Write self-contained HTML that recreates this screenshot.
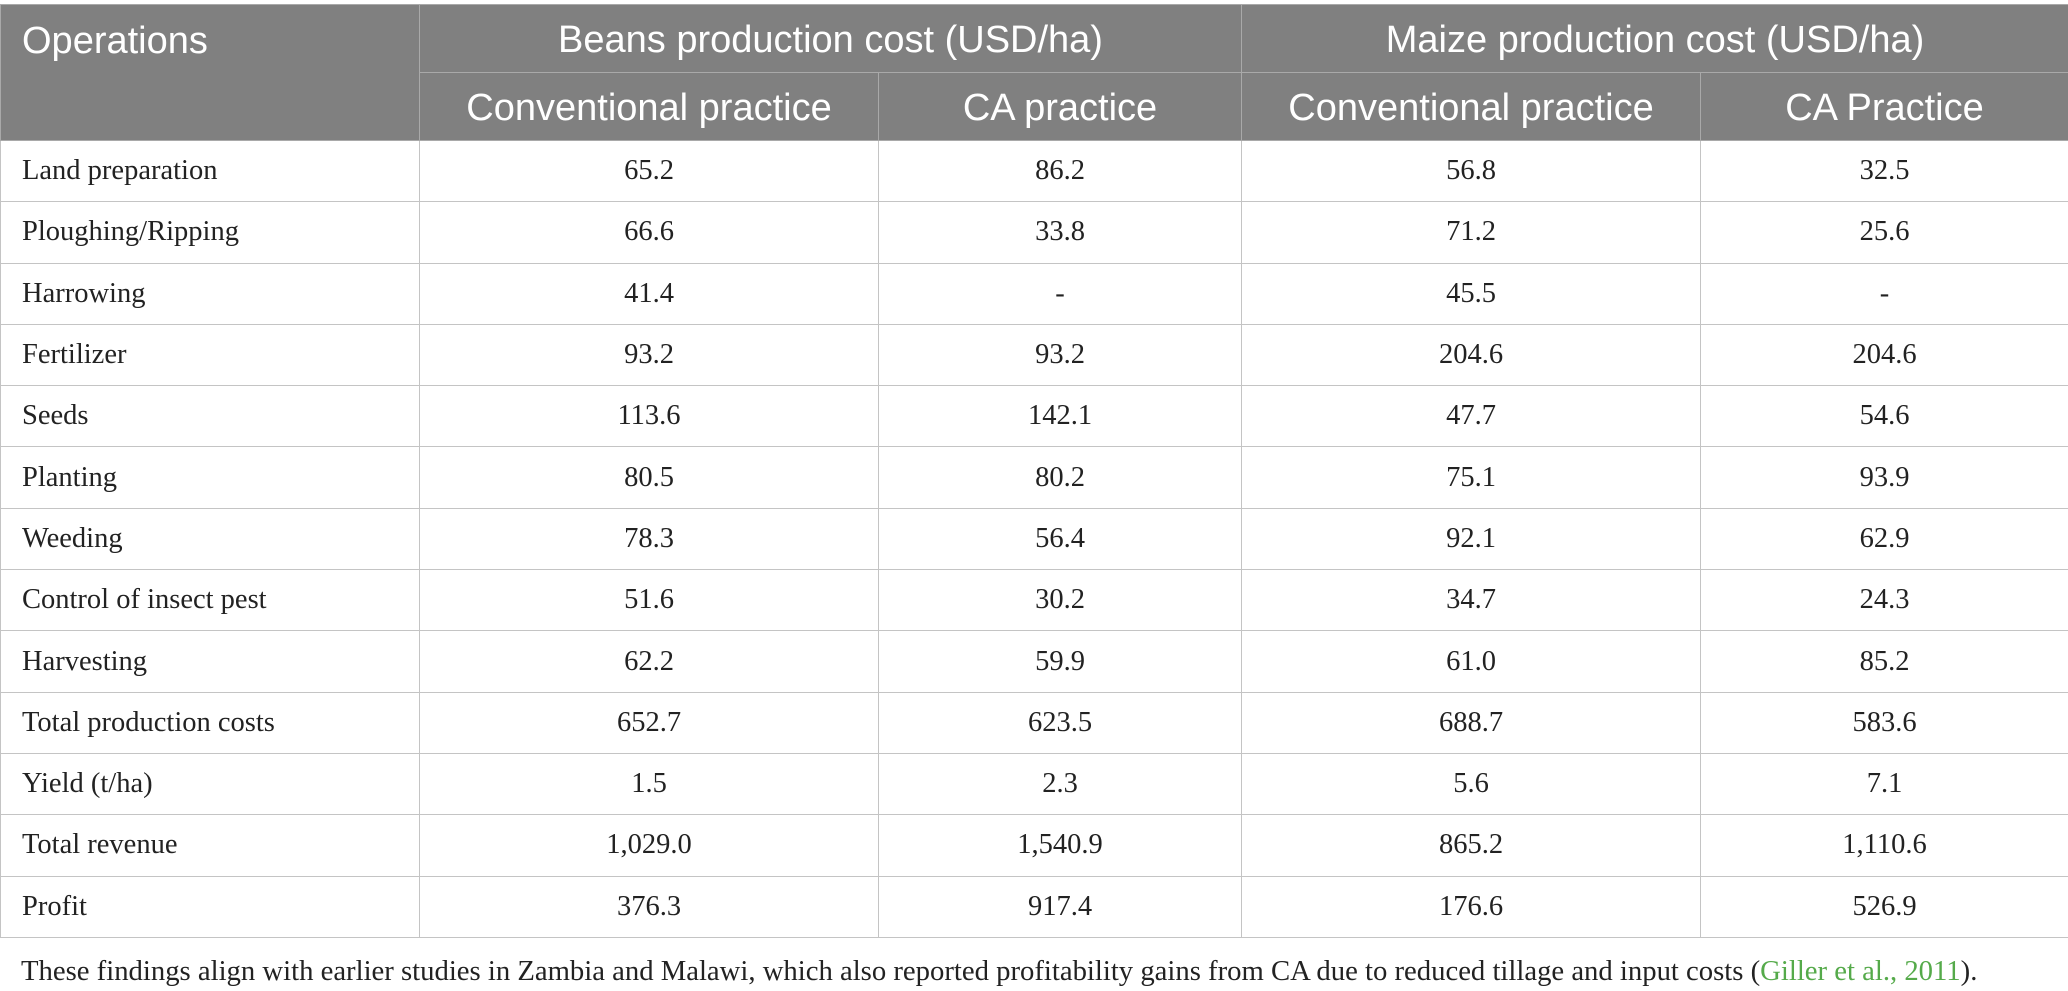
<!DOCTYPE html>
<html><head><meta charset="utf-8">
<style>
html,body{margin:0;padding:0;background:#fff;width:2068px;height:991px;overflow:hidden}
table{position:absolute;left:0;top:4px;border-collapse:collapse;table-layout:fixed;width:2068px}
th{background:#808080;color:#fff;font-family:"Liberation Sans",sans-serif;font-weight:normal;font-size:38px;height:68px;padding:3px 0 0 0;border:1px solid #a9a9a9;text-align:center;box-sizing:border-box}
th.left{text-align:left;padding-left:21px;vertical-align:top;padding-top:15px}
td{font-family:"Liberation Serif",serif;font-size:28.5px;color:#222;height:60.3px;padding:0;border:1px solid #c4c4c4;text-align:center}
td.left{text-align:left;padding-left:21px}
.note{position:absolute;left:21px;top:955px;font-family:"Liberation Serif",serif;font-size:28.7px;color:#222;white-space:nowrap}
.note a{color:#55aa4a;text-decoration:none}
</style></head><body>
<table>
<colgroup><col style="width:419px"><col style="width:459px"><col style="width:363px"><col style="width:459px"><col style="width:368px"></colgroup>
<tr>
<th class="left" rowspan="2">Operations</th>
<th colspan="2">Beans production cost (USD/ha)</th>
<th colspan="2">Maize production cost (USD/ha)</th>
</tr>
<tr>
<th>Conventional practice</th>
<th>CA practice</th>
<th>Conventional practice</th>
<th>CA Practice</th>
</tr>
<tr><td class="left">Land preparation</td><td>65.2</td><td>86.2</td><td>56.8</td><td>32.5</td></tr>
<tr><td class="left">Ploughing/Ripping</td><td>66.6</td><td>33.8</td><td>71.2</td><td>25.6</td></tr>
<tr><td class="left">Harrowing</td><td>41.4</td><td>-</td><td>45.5</td><td>-</td></tr>
<tr><td class="left">Fertilizer</td><td>93.2</td><td>93.2</td><td>204.6</td><td>204.6</td></tr>
<tr><td class="left">Seeds</td><td>113.6</td><td>142.1</td><td>47.7</td><td>54.6</td></tr>
<tr><td class="left">Planting</td><td>80.5</td><td>80.2</td><td>75.1</td><td>93.9</td></tr>
<tr><td class="left">Weeding</td><td>78.3</td><td>56.4</td><td>92.1</td><td>62.9</td></tr>
<tr><td class="left">Control of insect pest</td><td>51.6</td><td>30.2</td><td>34.7</td><td>24.3</td></tr>
<tr><td class="left">Harvesting</td><td>62.2</td><td>59.9</td><td>61.0</td><td>85.2</td></tr>
<tr><td class="left">Total production costs</td><td>652.7</td><td>623.5</td><td>688.7</td><td>583.6</td></tr>
<tr><td class="left">Yield (t/ha)</td><td>1.5</td><td>2.3</td><td>5.6</td><td>7.1</td></tr>
<tr><td class="left">Total revenue</td><td>1,029.0</td><td>1,540.9</td><td>865.2</td><td>1,110.6</td></tr>
<tr><td class="left">Profit</td><td>376.3</td><td>917.4</td><td>176.6</td><td>526.9</td></tr>
</table>
<div class="note">These findings align with earlier studies in Zambia and Malawi, which also reported profitability gains from CA due to reduced tillage and input costs (<a>Giller et al., 2011</a>).</div>
</body></html>
